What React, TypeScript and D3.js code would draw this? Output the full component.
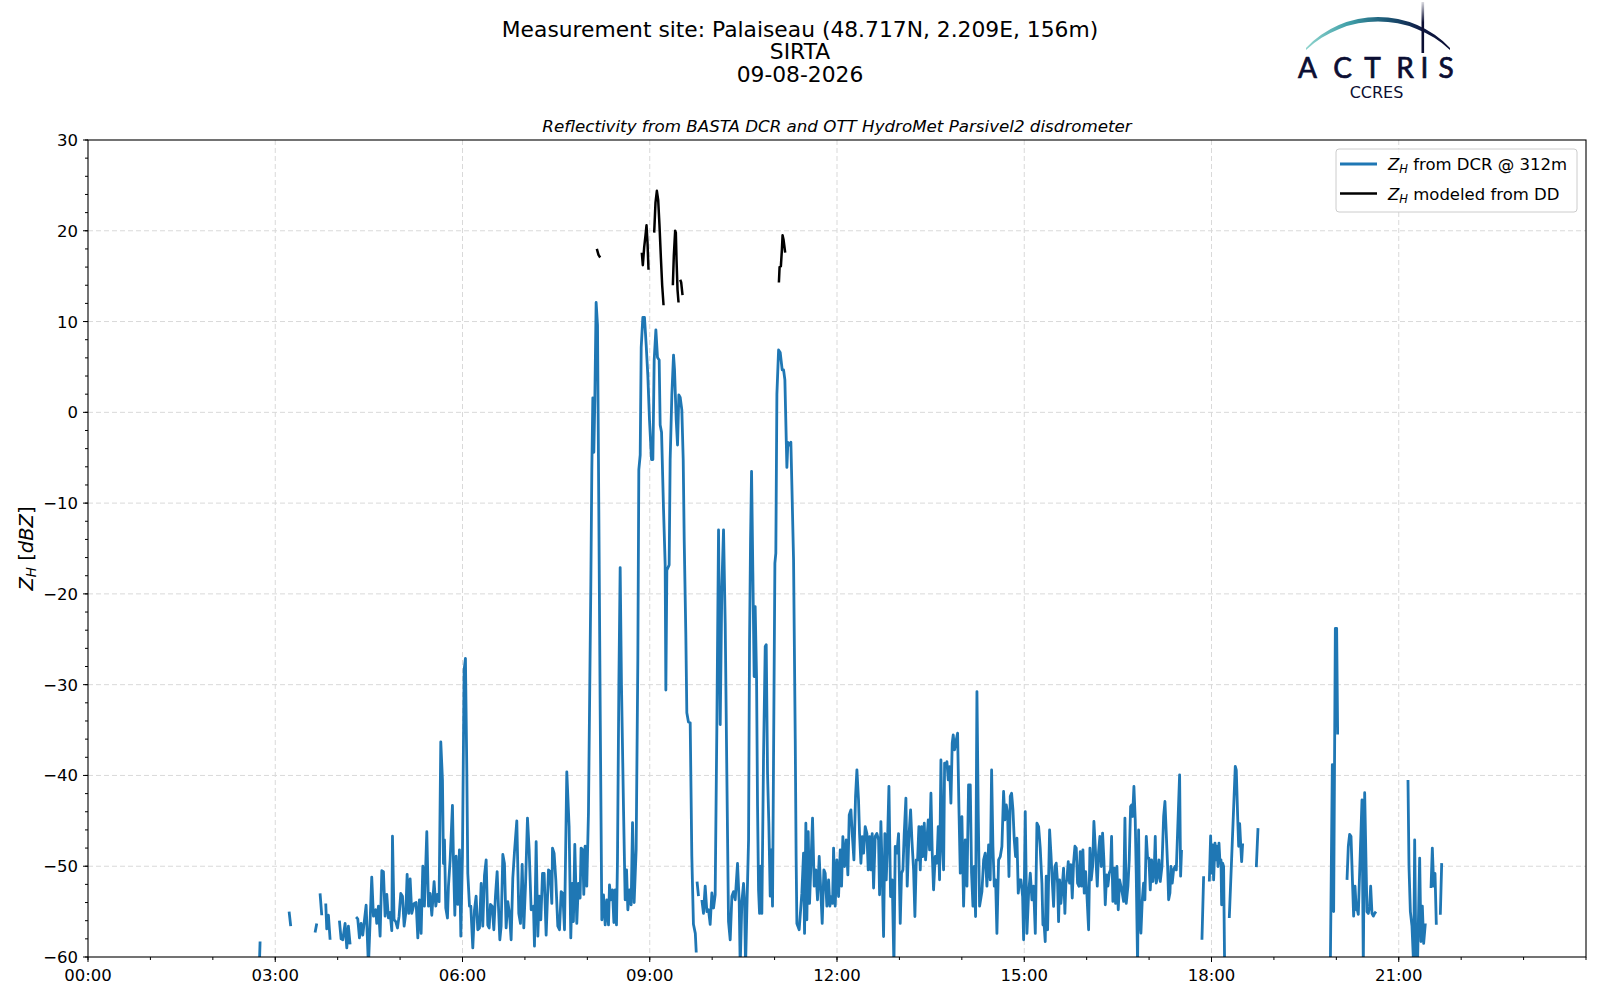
import React from "react";
import * as d3 from "d3";

type Pt = [number, number | null];

// Time in decimal hours (UTC), reflectivity in dBZ. null marks a data gap.
const dcrPoints: Pt[] = [
  [2.745, -61], [2.757, -58.3], [2.77, null],
  [3.222, -55.0], [3.248, -56.6], [3.26, null],
  [3.638, -57.3], [3.665, -56.3], [3.69, null],
  [3.718, -53.0], [3.745, -55.4], [3.77, null],
  [3.809, -54.1], [3.825, -56.9], [3.852, -55.4], [3.879, -58.1], [3.9, null],
  [4.028, -56.0], [4.055, -58.0], [4.082, -58.1], [4.119, -56.3], [4.146, -59.0], [4.172, -56.6], [4.199, -58.6], [4.22, null],
  [4.295, -55.6], [4.322, -55.8], [4.349, -57.9], [4.375, -56.3], [4.402, -57.6], [4.456, -54.3], [4.493, -61], [4.546, -51.2],
  [4.573, -55.5], [4.61, -54.8], [4.626, -56.3], [4.653, -54.4], [4.68, -57.7], [4.707, -50.5], [4.733, -50.6], [4.76, -55.5],
  [4.787, -53.1], [4.813, -55.7], [4.84, -55.1], [4.867, -57.1], [4.878, -46.7], [4.904, -55.9], [4.931, -56.1], [4.958, -56.8],
  [4.984, -55.5], [5.011, -53.0], [5.038, -53.3], [5.065, -56.6], [5.091, -55.2], [5.113, -50.9], [5.139, -55.2], [5.161, -51.4],
  [5.187, -55.2], [5.225, -54.1], [5.257, -54.0], [5.284, -57.9], [5.31, -53.7], [5.337, -57.4], [5.364, -50.0], [5.39, -54.4],
  [5.428, -46.2], [5.455, -54.4], [5.481, -53.0], [5.508, -55.4], [5.545, -51.7], [5.572, -54.4], [5.599, -53.1], [5.625, -53.9],
  [5.652, -36.3], [5.679, -40.5], [5.695, -49.7], [5.711, -47.1], [5.732, -54.6], [5.759, -55.7], [5.775, -52.2], [5.802, -49.3],
  [5.839, -43.3], [5.855, -49.3], [5.877, -55.4], [5.898, -48.9], [5.925, -54.2], [5.951, -48.2], [5.973, -57.7], [5.999, -48.9],
  [6.026, -28.4], [6.047, -27.1], [6.069, -39.4], [6.085, -50.8], [6.112, -54.4], [6.133, -54.4], [6.165, -59.0], [6.192, -54.8],
  [6.218, -53.3], [6.245, -57.0], [6.272, -56.8], [6.299, -51.9], [6.325, -56.6], [6.352, -51.0], [6.379, -49.3], [6.405, -56.5],
  [6.427, -56.8], [6.448, -54.2], [6.475, -54.4], [6.502, -57.0], [6.528, -53.3], [6.555, -50.6], [6.576, -54.4], [6.598, -58.1],
  [6.619, -56.6], [6.646, -48.7], [6.672, -49.7], [6.699, -56.8], [6.726, -53.9], [6.753, -55.2], [6.779, -58.1], [6.806, -51.3],
  [6.833, -48.4], [6.87, -45.0], [6.902, -55.2], [6.929, -56.3], [6.956, -49.8], [6.982, -56.8], [7.009, -52.2], [7.041, -44.7],
  [7.068, -48.2], [7.1, -54.8], [7.137, -54.4], [7.153, -58.8], [7.18, -47.3], [7.207, -57.7], [7.228, -53.3], [7.255, -55.9],
  [7.282, -50.8], [7.308, -50.8], [7.34, -57.6], [7.378, -50.4], [7.404, -50.6], [7.431, -54.1], [7.442, -48.0], [7.468, -48.6],
  [7.495, -51.5], [7.527, -56.6], [7.554, -57.0], [7.581, -52.8], [7.607, -53.0], [7.634, -57.0], [7.671, -39.6], [7.708, -45.6],
  [7.735, -57.9], [7.756, -51.9], [7.777, -56.1], [7.799, -47.6], [7.831, -56.3], [7.857, -51.9], [7.884, -53.5], [7.9, -48.0],
  [7.927, -48.2], [7.943, -53.1], [7.964, -47.8], [7.991, -52.2], [8.018, -44.1], [8.056, -19.0], [8.072, -6.3], [8.088, 1.6],
  [8.104, -4.4], [8.12, 1.4], [8.141, 12.1], [8.163, 9.6], [8.184, -10.75], [8.206, -32.8], [8.232, -55.9], [8.259, -53.15],
  [8.286, -56.46], [8.312, -53.7], [8.339, -56.46], [8.355, -52.05], [8.377, -53.7], [8.403, -52.6], [8.425, -56.2], [8.446, -52.6],
  [8.467, -56.46], [8.483, -49.3], [8.505, -30.0], [8.526, -17.1], [8.547, -30.0], [8.58, -43.8], [8.606, -53.7], [8.628, -50.4],
  [8.649, -54.8], [8.676, -52.6], [8.702, -54.25], [8.724, -45.2], [8.75, -54.0], [8.782, -48.2], [8.809, -27.3], [8.825, -6.3],
  [8.847, -4.7], [8.863, 7.15], [8.889, 10.45], [8.916, 10.45], [8.943, 7.4], [8.969, 4.1], [8.996, -0.84], [9.028, -5.2],
  [9.05, -5.2], [9.071, 5.77], [9.098, 9.08], [9.124, 6.05], [9.151, 5.77], [9.167, -1.39], [9.189, -2.2], [9.221, -10.75],
  [9.247, -16.8], [9.258, -30.6], [9.274, -17.4], [9.311, -16.8], [9.327, -5.2], [9.354, 1.92], [9.381, 6.3], [9.397, 4.67],
  [9.424, -0.84], [9.445, -3.6], [9.466, 1.92], [9.488, 1.64], [9.514, 0.27], [9.536, -5.2], [9.552, -14.05], [9.578, -24.5],
  [9.594, -33.1], [9.62, -34.1], [9.648, -34.2], [9.674, -48.9], [9.7, -56.4], [9.73, -57.4], [9.745, -59.5], [9.75, null],
  [9.758, -51.7], [9.781, -53.3], [9.8, null],
  [9.835, -53.7], [9.861, -55.2], [9.888, -52.2], [9.915, -55.0], [9.942, -54.8], [9.968, -56.4], [9.995, -52.95], [10.022, -54.6],
  [10.048, -53.15], [10.075, -34.6], [10.102, -12.95], [10.129, -34.4], [10.155, -19.2], [10.182, -12.95], [10.209, -23.2], [10.235, -39.75],
  [10.262, -56.1], [10.289, -58.1], [10.316, -53.3], [10.342, -52.8], [10.369, -53.7], [10.406, -49.7], [10.433, -53.9], [10.449, -61],
  [10.476, -53.9], [10.503, -51.9], [10.519, -53.9], [10.535, -61], [10.556, -54.8], [10.583, -47.1], [10.599, -25.1], [10.615, -14.05],
  [10.631, -6.5], [10.652, -17.7], [10.673, -29.1], [10.689, -21.4], [10.711, -29.1], [10.727, -43.4], [10.743, -52.6], [10.759, -55.2],
  [10.78, -50.0], [10.796, -55.2], [10.823, -37.9], [10.85, -25.8], [10.866, -25.6], [10.887, -39.75], [10.908, -45.3], [10.93, -53.3],
  [10.946, -48.2], [10.967, -54.4], [10.989, -32.4], [11.005, -16.6], [11.02, -15.5], [11.037, 2.0], [11.064, 6.87], [11.09, 6.6],
  [11.122, 4.67], [11.144, 4.67], [11.165, 3.57], [11.176, 0.27], [11.197, -6.07], [11.213, -3.3], [11.234, -3.6], [11.261, -3.3],
  [11.277, -8.0], [11.304, -16.3], [11.331, -36.0], [11.345, -48.9], [11.357, -56.3], [11.394, -57.0], [11.437, -52.97], [11.464, -48.56],
  [11.48, -57.4], [11.501, -45.26], [11.517, -55.9], [11.539, -46.2], [11.56, -54.1], [11.581, -50.03], [11.608, -44.7], [11.635, -52.2],
  [11.662, -50.4], [11.688, -53.7], [11.715, -48.93], [11.742, -52.97], [11.763, -56.3], [11.79, -50.4], [11.811, -50.77], [11.838, -54.4],
  [11.865, -51.5], [11.886, -54.4], [11.907, -53.34], [11.929, -54.1], [11.945, -48.0], [11.971, -54.4], [11.998, -49.3], [12.025, -53.34],
  [12.052, -48.2], [12.073, -52.2], [12.094, -46.73], [12.121, -50.03], [12.148, -47.1], [12.174, -50.95], [12.196, -44.34], [12.223, -43.79],
  [12.244, -46.4], [12.271, -49.3], [12.297, -42.3], [12.319, -39.39], [12.345, -42.7], [12.361, -46.4], [12.383, -49.67], [12.404, -46.73],
  [12.426, -48.56], [12.452, -45.63], [12.479, -46.4], [12.5, -50.4], [12.522, -46.73], [12.543, -50.4], [12.564, -46.4], [12.586, -52.4],
  [12.612, -46.73], [12.639, -46.4], [12.666, -47.1], [12.682, -53.15], [12.703, -45.08], [12.725, -50.77], [12.746, -57.74], [12.767, -46.4],
  [12.789, -51.5], [12.81, -47.1], [12.832, -41.2], [12.858, -53.34], [12.885, -51.5], [12.912, -61], [12.933, -47.83], [12.96, -48.56],
  [12.986, -46.4], [13.013, -56.3], [13.034, -50.77], [13.056, -50.4], [13.077, -46.4], [13.104, -42.5], [13.125, -52.2], [13.152, -46.73],
  [13.179, -43.79], [13.2, -47.1], [13.227, -50.4], [13.248, -55.54], [13.27, -49.3], [13.291, -49.3], [13.312, -45.63], [13.334, -50.4],
  [13.355, -45.63], [13.376, -48.93], [13.398, -45.26], [13.419, -49.3], [13.44, -47.1], [13.462, -44.9], [13.483, -48.2], [13.505, -41.96],
  [13.526, -48.56], [13.547, -52.6], [13.574, -48.93], [13.601, -49.67], [13.622, -45.63], [13.643, -51.5], [13.665, -38.29], [13.686, -47.46],
  [13.708, -50.4], [13.724, -38.65], [13.745, -39.02], [13.761, -38.47], [13.782, -40.49], [13.804, -39.02], [13.825, -43.06], [13.846, -36.45],
  [13.862, -35.53], [13.884, -37.18], [13.911, -36.08], [13.932, -35.35], [13.953, -43.43], [13.975, -50.77], [14.001, -44.53], [14.028, -54.4],
  [14.055, -47.1], [14.082, -52.2], [14.108, -41.04], [14.135, -41.04], [14.156, -50.77], [14.178, -54.4], [14.199, -50.03], [14.22, -55.54],
  [14.242, -30.76], [14.263, -44.16], [14.284, -54.4], [14.322, -52.79], [14.349, -49.3], [14.375, -48.56], [14.402, -52.2], [14.429, -47.65],
  [14.455, -51.5], [14.477, -39.39], [14.498, -47.83], [14.52, -52.2], [14.541, -51.5], [14.562, -57.4], [14.589, -49.3], [14.616, -48.93],
  [14.642, -47.83], [14.669, -41.77], [14.69, -44.9], [14.712, -43.24], [14.733, -44.16], [14.755, -51.13], [14.776, -42.3], [14.797, -41.96],
  [14.819, -43.79], [14.84, -47.1], [14.861, -48.93], [14.883, -46.9], [14.904, -52.97], [14.926, -51.5], [14.947, -51.5], [14.974, -53.34],
  [14.99, -58.1], [15.016, -43.98], [15.043, -57.4], [15.07, -52.97], [15.097, -50.77], [15.123, -53.7], [15.15, -52.2], [15.177, -57.4],
  [15.203, -45.26], [15.23, -45.63], [15.256, -48.0], [15.283, -51.86], [15.299, -56.45], [15.32, -56.6], [15.336, -58.3], [15.352, -51.1],
  [15.374, -57.0], [15.39, -51.5], [15.406, -46.0], [15.427, -48.56], [15.448, -51.5], [15.47, -54.43], [15.491, -50.03], [15.512, -49.66],
  [15.534, -51.86], [15.55, -56.1], [15.566, -51.5], [15.587, -54.1], [15.609, -52.2], [15.63, -50.2], [15.651, -55.2], [15.667, -51.86],
  [15.683, -51.5], [15.705, -49.5], [15.726, -51.86], [15.747, -49.84], [15.769, -53.5], [15.79, -49.66], [15.812, -47.8], [15.833, -48.0],
  [15.854, -51.86], [15.876, -52.2], [15.897, -48.4], [15.918, -52.2], [15.94, -48.2], [15.961, -52.96], [15.983, -50.6], [16.004, -53.15],
  [16.031, -57.0], [16.052, -48.0], [16.073, -51.5], [16.095, -50.03], [16.116, -45.07], [16.143, -48.56], [16.17, -52.2], [16.191, -48.4],
  [16.212, -46.72], [16.234, -50.03], [16.255, -46.36], [16.276, -49.3], [16.298, -54.25], [16.319, -50.95], [16.34, -52.2], [16.362, -50.76],
  [16.383, -50.4], [16.399, -46.72], [16.42, -53.88], [16.442, -50.2], [16.463, -54.1], [16.485, -50.03], [16.506, -54.8], [16.527, -51.5],
  [16.549, -52.2], [16.57, -52.96], [16.592, -53.88], [16.613, -44.7], [16.634, -54.1], [16.661, -52.2], [16.682, -49.3], [16.704, -43.42],
  [16.72, -43.24], [16.736, -44.52], [16.757, -41.22], [16.778, -44.89], [16.794, -50.76], [16.816, -61], [16.832, -46.0], [16.848, -55.53],
  [16.869, -57.37], [16.891, -53.7], [16.912, -51.86], [16.933, -53.7], [16.955, -46.72], [16.976, -49.11], [16.997, -49.11], [17.019, -52.6],
  [17.04, -49.3], [17.062, -51.68], [17.083, -50.2], [17.099, -46.72], [17.115, -51.86], [17.136, -51.1], [17.158, -49.3], [17.179, -51.68],
  [17.206, -50.03], [17.233, -44.52], [17.254, -42.87], [17.275, -46.36], [17.297, -50.03], [17.313, -53.7], [17.334, -52.96], [17.35, -50.03],
  [17.371, -51.86], [17.393, -50.4], [17.414, -50.03], [17.436, -50.4], [17.489, -39.93], [17.505, -51.1], [17.52, -48.2], [17.535, null],
  [17.847, -58.1], [17.874, -51.1], [17.89, null],
  [17.965, -51.68], [17.986, -46.65], [18.002, -50.76], [18.018, -47.64], [18.034, -51.5], [18.056, -47.46], [18.072, -49.3], [18.088, -47.8],
  [18.104, -50.03], [18.12, -47.46], [18.136, -49.66], [18.152, -49.3], [18.162, -54.25], [18.178, -49.66], [18.194, -50.03], [18.21, -61], [18.225, null],
  [18.285, -55.7], [18.381, -39.0], [18.397, -39.4], [18.419, -44.5], [18.435, -47.8], [18.451, -45.3], [18.467, -47.5], [18.483, -49.5],
  [18.499, -47.5], [18.52, null],
  [18.718, -50.1], [18.745, -45.8], [18.76, null],
  [19.904, -61], [19.936, -38.8], [19.957, -55.0], [19.984, -23.8], [20.005, -23.8], [20.021, -35.5], [20.04, null],
  [20.171, -51.5], [20.192, -47.8], [20.213, -46.5], [20.235, -46.7], [20.256, -51.1], [20.277, -55.5], [20.299, -52.2], [20.32, -54.8],
  [20.336, -54.8], [20.352, -55.3], [20.411, -42.7], [20.432, -61], [20.454, -41.9], [20.491, -55.0], [20.512, -55.2], [20.534, -54.4],
  [20.55, -52.2], [20.571, -55.2], [20.593, -55.5], [20.614, -55.2], [20.635, -55.0], [20.65, null],
  [21.148, -40.5], [21.164, -50.0], [21.186, -55.0], [21.212, -56.6], [21.239, -61], [21.255, -47.1], [21.276, -61], [21.3, -61],
  [21.335, -49.1], [21.356, -58.3], [21.378, -54.4], [21.399, -58.5], [21.426, -56.3], [21.44, null],
  [21.517, -52.4], [21.538, -48.0], [21.56, -52.2], [21.581, -50.8], [21.602, -56.45], [21.62, null],
  [21.666, -55.35], [21.688, -49.66],
];

const ddPoints: Pt[] = [
  [8.152, 18.0], [8.179, 17.34], [8.206, 17.06], [8.22, null],
  [8.873, 17.6], [8.889, 16.2], [8.911, 18.2], [8.932, 19.5], [8.948, 20.6], [8.964, 18.7], [8.98, 15.7], [9.0, null],
  [9.071, 19.8], [9.092, 23.1], [9.114, 24.4], [9.135, 23.4], [9.156, 20.6], [9.178, 17.1], [9.199, 14.0], [9.221, 11.8], [9.24, null],
  [9.37, 14.0], [9.386, 17.3], [9.407, 20.0], [9.418, 19.8], [9.429, 16.8], [9.445, 13.5], [9.461, 12.1], [9.475, null],
  [9.488, 14.6], [9.504, 14.3], [9.525, 12.9], [9.54, null],
  [11.069, 14.3], [11.08, 16.0], [11.101, 16.1], [11.117, 17.9], [11.128, 19.5], [11.144, 19.0], [11.17, 17.6],
];

const titleLines = [
  "Measurement site: Palaiseau (48.717N, 2.209E, 156m)",
  "SIRTA",
  "09-08-2026",
];
const subtitle = "Reflectivity from BASTA DCR and OTT HydroMet Parsivel2 disdrometer";
const xMajorTicks = [0, 3, 6, 9, 12, 15, 18, 21];
const xMinorTicks = d3.range(0, 25, 1);
const yMajorTicks = [-60, -50, -40, -30, -20, -10, 0, 10, 20, 30];
const yMinorTicks = d3.range(-60, 31, 2);
const logoLetters = ["A", "C", "T", "R", "I", "S"];

const FONT = "'DejaVu Sans', sans-serif";
const NAVY = "#0b0e33";

export default function App() {
  const left = 88, right = 1586, top = 140, bottom = 957;
  const x = d3.scaleLinear().domain([0, 24]).range([left, right]);
  const y = d3.scaleLinear().domain([-60, 30]).range([bottom, top]);
  const line = d3
    .line<Pt>()
    .defined((d) => d[1] !== null)
    .x((d) => x(d[0]))
    .y((d) => y(d[1] as number));

  const fmtX = (h: number) => `${String(h).padStart(2, "0")}:00`;
  const fmtY = (v: number) => (v < 0 ? `\u2212${Math.abs(v)}` : `${v}`);
  const letterX = [1307.5, 1342.5, 1372.5, 1405, 1424.5, 1446];
  const titleBaselines = [36.7, 59.4, 82.2];

  return (
    <div style={{ position: "absolute", left: 0, top: 0, background: "#fff" }}>
      <svg width={1600} height={1000} viewBox="0 0 1600 1000" style={{ display: "block", background: "#fff" }}>
        <defs>
          <clipPath id="plotClip">
            <rect x={left} y={top} width={right - left} height={bottom - top} />
          </clipPath>
          <linearGradient id="arcGrad" gradientUnits="userSpaceOnUse" x1={1306} y1={0} x2={1450} y2={0}>
            <stop offset="0%" stopColor="#8fd4cd" />
            <stop offset="30%" stopColor="#3f9fa8" />
            <stop offset="55%" stopColor="#1d5a78" />
            <stop offset="80%" stopColor="#0f1b45" />
            <stop offset="100%" stopColor={NAVY} />
          </linearGradient>
          <linearGradient id="barGrad" gradientUnits="userSpaceOnUse" x1={0} y1={2} x2={0} y2={53}>
            <stop offset="0%" stopColor={NAVY} stopOpacity={0.15} />
            <stop offset="40%" stopColor={NAVY} stopOpacity={1} />
            <stop offset="100%" stopColor={NAVY} stopOpacity={1} />
          </linearGradient>
        </defs>

        {/* Titles */}
        {titleLines.map((t, i) => (
          <text key={t} x={800} y={titleBaselines[i]} textAnchor="middle" fontFamily={FONT} fontSize={21.8} fill="#000">
            {t}
          </text>
        ))}
        <text x={(left + right) / 2} y={131.5} textAnchor="middle" fontFamily={FONT} fontSize={16.7} fontStyle="italic" fill="#000">
          {subtitle}
        </text>

        {/* Logo */}
        <path
          d="M1306,48 A99.1,99.1 0 0 1 1450,48 L1450,50 A105.2,105.2 0 0 0 1306,50 Z"
          fill="url(#arcGrad)"
        />
        <rect x={1421.5} y={2} width={2.6} height={51} fill="url(#barGrad)" />
        {logoLetters.map((l, i) => (
          <text key={i} x={letterX[i]} y={78} textAnchor="middle" fontFamily="Lato, 'DejaVu Sans', sans-serif" fontSize={28}
            fill={NAVY} stroke={NAVY} strokeWidth={0.7}>
            {l}
          </text>
        ))}
        <text x={1376.5} y={98} textAnchor="middle" fontFamily={FONT} fontSize={16} fill={NAVY}>
          CCRES
        </text>

        {/* Grid */}
        <g stroke="#d9d9d9" strokeWidth={1} strokeDasharray="5,3">
          {xMajorTicks.filter((t) => t > 0).map((t) => (
            <line key={`gx${t}`} x1={x(t)} x2={x(t)} y1={top} y2={bottom} />
          ))}
          {yMajorTicks.filter((t) => t > -60 && t < 30).map((t) => (
            <line key={`gy${t}`} x1={left} x2={right} y1={y(t)} y2={y(t)} />
          ))}
        </g>

        {/* Data */}
        <g clipPath="url(#plotClip)" fill="none" strokeLinejoin="round">
          <path d={line(dcrPoints) || ""} stroke="#1f77b4" strokeWidth={2.8} />
          <path d={line(ddPoints) || ""} stroke="#000" strokeWidth={2.5} />
        </g>

        {/* Axes frame */}
        <rect x={left} y={top} width={right - left} height={bottom - top} fill="none" stroke="#000" strokeWidth={1.1} />

        {/* Ticks */}
        <g stroke="#000" strokeWidth={1}>
          {xMinorTicks.map((t) => (
            <line key={`mx${t}`} x1={x(t)} x2={x(t)} y1={bottom} y2={bottom + 3} />
          ))}
          {xMajorTicks.map((t) => (
            <line key={`Mx${t}`} x1={x(t)} x2={x(t)} y1={bottom} y2={bottom + 5} />
          ))}
          {yMinorTicks.map((t) => (
            <line key={`my${t}`} x1={left - 3} x2={left} y1={y(t)} y2={y(t)} />
          ))}
          {yMajorTicks.map((t) => (
            <line key={`My${t}`} x1={left - 5} x2={left} y1={y(t)} y2={y(t)} />
          ))}
        </g>
        <g fontFamily={FONT} fontSize={16.5} fill="#000">
          {xMajorTicks.map((t) => (
            <text key={`lx${t}`} x={x(t)} y={981} textAnchor="middle">
              {fmtX(t)}
            </text>
          ))}
          {yMajorTicks.map((t) => (
            <text key={`ly${t}`} x={78} y={y(t) + 6} textAnchor="end">
              {fmtY(t)}
            </text>
          ))}
        </g>

        {/* Y label */}
        <text transform={`translate(32.5,${(top + bottom) / 2}) rotate(-90)`} textAnchor="middle" fontFamily={FONT} fontSize={19.5} fill="#000">
          <tspan fontStyle="italic">Z</tspan>
          <tspan fontStyle="italic" fontSize={13.5} dy={3}>H</tspan>
          <tspan dy={-3}> [</tspan>
          <tspan fontStyle="italic">dBZ</tspan>
          <tspan>]</tspan>
        </text>

        {/* Legend */}
        <rect x={1336} y={149} width={241} height={63} rx={3} fill="#fff" fillOpacity={0.8} stroke="#cccccc" strokeWidth={1} />
        <line x1={1340} x2={1377} y1={164} y2={164} stroke="#1f77b4" strokeWidth={2.8} />
        <line x1={1340} x2={1377} y1={193.5} y2={193.5} stroke="#000" strokeWidth={2.5} />
        <g fontFamily={FONT} fontSize={16.5} fill="#000">
          <text x={1388} y={170}>
            <tspan fontStyle="italic">Z</tspan>
            <tspan fontStyle="italic" fontSize={11.5} dy={3}>H</tspan>
            <tspan dy={-3}> from DCR @ 312m</tspan>
          </text>
          <text x={1388} y={199.5}>
            <tspan fontStyle="italic">Z</tspan>
            <tspan fontStyle="italic" fontSize={11.5} dy={3}>H</tspan>
            <tspan dy={-3}> modeled from DD</tspan>
          </text>
        </g>
      </svg>
    </div>
  );
}
